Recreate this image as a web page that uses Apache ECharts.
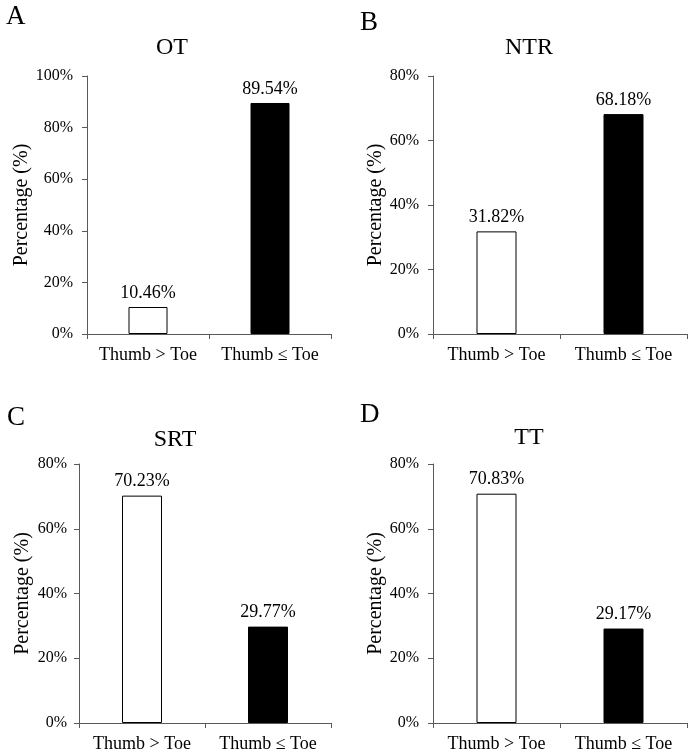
<!DOCTYPE html>
<html>
<head>
<meta charset="utf-8">
<script src="https://cdn.jsdelivr.net/npm/echarts@6/dist/echarts.min.js"></script>
<style>
  html, body { margin: 0; padding: 0; background: #fff; }
  #chart { width: 688px; height: 753px; }
</style>
</head>
<body>
<div id="chart"></div>
<script>
const categories = ['Thumb > Toe', 'Thumb \u2264 Toe']
const panelLetters = ['A', 'B', 'C', 'D']
const panelTitles = ['OT', 'NTR', 'SRT', 'TT']
const otValues = [10.46, 89.54]
const ntrValues = [31.82, 68.18]
const srtValues = [70.23, 29.77]
const ttValues = [70.83, 29.17]
const yMax = [100, 80, 80, 80]
const barColors = ['#ffffff', '#000000']

const FONT = '"Liberation Serif", "Times New Roman", serif'
const AXIS_COLOR = '#595959'

// layout of each panel (pixels)
const panels = [
  { values: otValues, grid: { left: 87, right: 357, top: 76, bottom: 419 }, nameGap: 52, labelMargin: 14, titleX: 167, titleY: 31, letterX: 1, letterY: -2, barWidth: 39 },
  { values: ntrValues, grid: { left: 433, right: 1, top: 76, bottom: 419 }, nameGap: 47, labelMargin: 14, titleX: 524, titleY: 31, letterX: 355, letterY: 4, barWidth: 40 },
  { values: srtValues, grid: { left: 79, right: 357, top: 464, bottom: 30 }, nameGap: 46, labelMargin: 12, titleX: 170, titleY: 423, letterX: 2, letterY: 399, barWidth: 40 },
  { values: ttValues, grid: { left: 433, right: 1, top: 464, bottom: 30 }, nameGap: 47, labelMargin: 14, titleX: 524, titleY: 421, letterX: 355, letterY: 396, barWidth: 40 }
]

const chart = echarts.init(document.getElementById('chart'), null, { renderer: 'canvas' })

const option = {
  backgroundColor: '#fff',
  animation: false,
  title: [],
  grid: [],
  xAxis: [],
  yAxis: [],
  series: []
}

panels.forEach((p, i) => {
  option.title.push({
    text: panelLetters[i],
    left: p.letterX,
    top: p.letterY,
    textStyle: { fontFamily: FONT, fontSize: 27, fontWeight: 'normal', color: '#000' }
  })
  option.title.push({
    text: panelTitles[i],
    left: p.titleX,
    top: p.titleY,
    textAlign: 'center',
    textStyle: { fontFamily: FONT, fontSize: 24, fontWeight: 'normal', color: '#000' }
  })
  option.grid.push({ ...p.grid, containLabel: false, outerBoundsMode: 'none' })
  option.xAxis.push({
    type: 'category',
    gridIndex: i,
    data: categories,
    axisLine: { show: true, lineStyle: { color: AXIS_COLOR, width: 1 } },
    axisTick: { show: true, length: 5, lineStyle: { color: AXIS_COLOR } },
    axisLabel: { interval: 0, hideOverlap: false, fontFamily: FONT, fontSize: 18, color: '#000', margin: 12 },
    splitLine: { show: false }
  })
  option.yAxis.push({
    type: 'value',
    gridIndex: i,
    min: 0,
    max: yMax[i],
    interval: 20,
    name: 'Percentage (%)',
    nameLocation: 'middle',
    nameGap: p.nameGap,
    nameTextStyle: { fontFamily: FONT, fontSize: 20, color: '#000' },
    axisLine: { show: true, lineStyle: { color: AXIS_COLOR, width: 1 } },
    axisTick: { show: true, length: 5, lineStyle: { color: AXIS_COLOR } },
    axisLabel: { fontFamily: FONT, fontSize: 16, color: '#000', margin: p.labelMargin, formatter: '{value}%' },
    splitLine: { show: false }
  })
  option.series.push({
    type: 'bar',
    xAxisIndex: i,
    yAxisIndex: i,
    barWidth: p.barWidth,
    data: p.values.map((v, j) => ({
      value: v,
      itemStyle: { color: barColors[j], borderColor: '#000', borderWidth: 1 }
    })),
    label: {
      show: true,
      position: 'top',
      distance: 5,
      fontFamily: FONT,
      fontSize: 18,
      color: '#000',
      formatter: (d) => d.value.toFixed(2) + '%'
    }
  })
})

chart.setOption(option)
</script>
</body>
</html>
